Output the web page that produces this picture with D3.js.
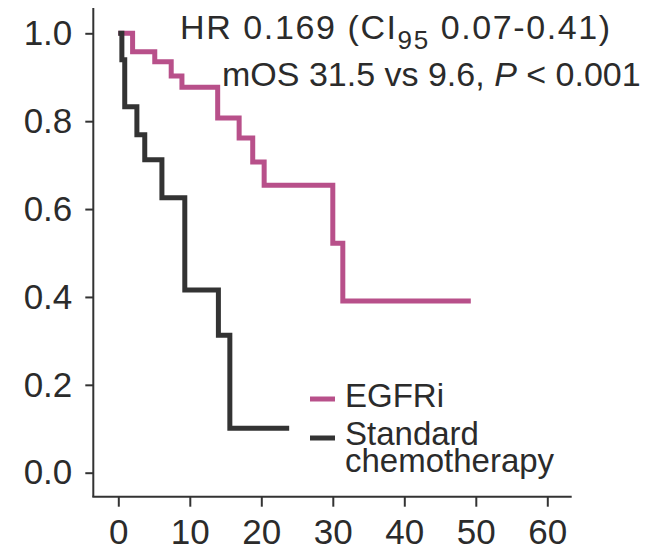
<!DOCTYPE html>
<html>
<head>
<meta charset="utf-8">
<script src="https://cdn.jsdelivr.net/npm/d3@7"></script>
<style>
  body { margin:0; background:#fff; }
  text { font-family: "Liberation Sans", Arial, sans-serif; fill:#2b2b2b; }
</style>
</head>
<body>
<div id="plot"></div>
<script>
// survival data (months, proportion surviving)
var egfriTime = [0, 2.0, 5.1, 7.4, 8.9, 13.9, 16.9, 18.8, 20.4, 30.0, 31.4, 49.3];
var egfriSurv = [1, 0.958, 0.935, 0.903, 0.877, 0.807, 0.762, 0.707, 0.654, 0.522, 0.391, 0.391];

var chemoTime = [0, 0.5, 0.9, 2.6, 3.7, 6.1, 9.3, 14.0, 15.6, 23.9];
var chemoSurv = [1, 0.94, 0.833, 0.769, 0.712, 0.626, 0.416, 0.313, 0.101, 0.101];

var xTicks = [0, 10, 20, 30, 40, 50, 60];
var yTicks = [0, 0.2, 0.4, 0.6, 0.8, 1.0];

var seriesNames = ['EGFRi', 'Standard chemotherapy'];
var seriesColors = ['#b8508a', '#333333'];

var width = 656, height = 550;

var svg = d3.select('#plot')
	.append('svg')
	.attr('width', width)
	.attr('height', height);

var x = d3.scaleLinear().domain([0, 60]).range([118.3, 547.3]);
var y = d3.scaleLinear().domain([0, 1]).range([472.7, 33.3]);

var axisX0 = 93.3, axisY0 = 496.7;

// y axis
var yAxis = svg.append('g')
	.attr('transform', 'translate(' + axisX0 + ',0)')
	.call(d3.axisLeft(y).tickValues(yTicks).tickFormat(d3.format('.1f')).tickSize(8).tickPadding(13));
yAxis.select('.domain').remove();
yAxis.selectAll('line').attr('stroke', '#333').attr('stroke-width', 2);
yAxis.selectAll('text').style('font-size', '35px').attr('fill', '#2b2b2b');

// x axis
var xAxis = svg.append('g')
	.attr('transform', 'translate(0,' + axisY0 + ')')
	.call(d3.axisBottom(x).tickValues(xTicks).tickSize(10).tickPadding(12));
xAxis.select('.domain').remove();
xAxis.selectAll('line').attr('stroke', '#333').attr('stroke-width', 2);
xAxis.selectAll('text').style('font-size', '35px').attr('fill', '#2b2b2b');

// axis lines extend past the data range
svg.append('line')
	.attr('x1', axisX0).attr('x2', axisX0)
	.attr('y1', 8).attr('y2', axisY0)
	.attr('stroke', '#333').attr('stroke-width', 2);
svg.append('line')
	.attr('x1', axisX0 - 1).attr('x2', 571.7)
	.attr('y1', axisY0).attr('y2', axisY0)
	.attr('stroke', '#333').attr('stroke-width', 2);

// step curves
var line = d3.line()
	.x(function(d){ return x(d[0]); })
	.y(function(d){ return y(d[1]); })
	.curve(d3.curveStepAfter);

var chemo = chemoTime.map(function(t, i){ return [t, chemoSurv[i]]; });
var egfri = egfriTime.map(function(t, i){ return [t, egfriSurv[i]]; });

svg.append('path')
	.datum(egfri)
	.attr('d', line)
	.attr('fill', 'none')
	.attr('stroke', seriesColors[0])
	.attr('stroke-width', 5);

svg.append('path')
	.datum(chemo)
	.attr('d', line)
	.attr('fill', 'none')
	.attr('stroke', seriesColors[1])
	.attr('stroke-width', 5);

// annotation
var hr = svg.append('text')
	.attr('x', 180).attr('y', 39)
	.style('font-size', '34px')
	.style('letter-spacing', '1.6px');
hr.append('tspan').text('HR 0.169 (CI');
hr.append('tspan').attr('dy', 10).style('font-size', '26px').text('95');
hr.append('tspan').attr('dy', -10).text(' 0.07-0.41)');

var mos = svg.append('text')
	.attr('x', 222).attr('y', 86)
	.style('font-size', '34px');
mos.append('tspan').text('mOS 31.5 vs 9.6, ');
mos.append('tspan').style('font-style', 'italic').text('P');
mos.append('tspan').text(' < 0.001');

// legend
var legendY = [399, 438];
seriesNames.forEach(function(name, i){
	svg.append('line')
		.attr('x1', 310).attr('x2', 335)
		.attr('y1', legendY[i]).attr('y2', legendY[i])
		.attr('stroke', seriesColors[i])
		.attr('stroke-width', 5);
});
svg.append('text').attr('x', 345).attr('y', 407).style('font-size', '33px').text('EGFRi');
svg.append('text').attr('x', 345).attr('y', 445).style('font-size', '33px').text('Standard');
svg.append('text').attr('x', 345).attr('y', 472).style('font-size', '33px').text('chemotherapy');
</script>
</body>
</html>
